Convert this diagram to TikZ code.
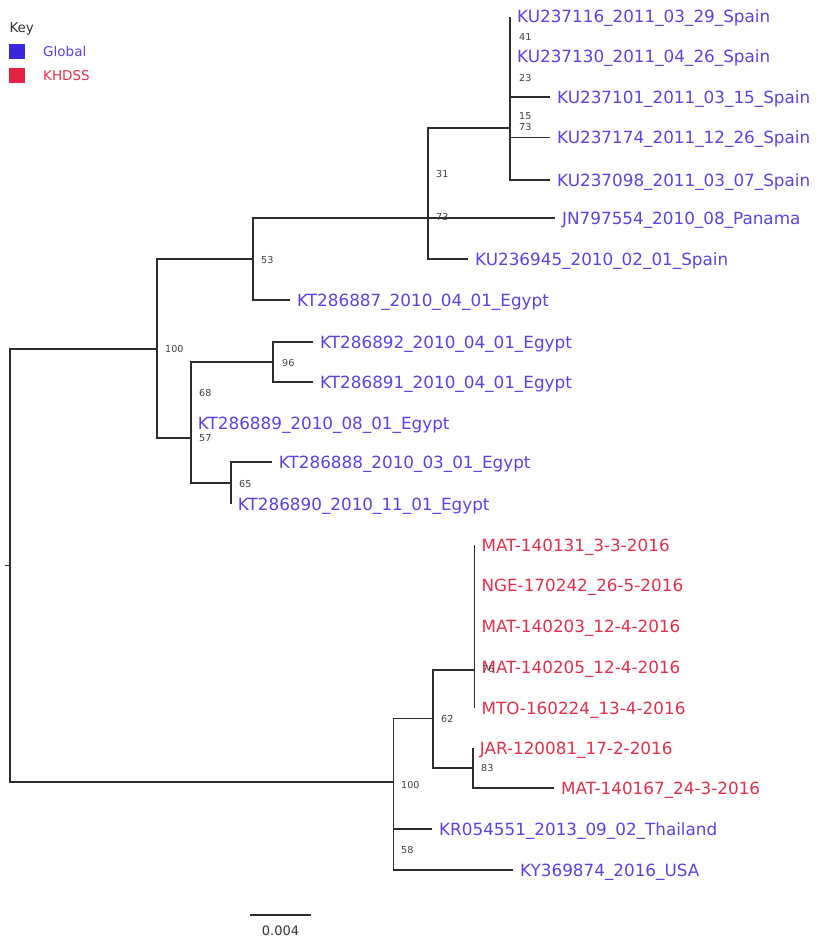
\documentclass[tikz,border=0pt]{standalone}
\usepackage{fontspec}
\setmainfont{DejaVu Sans}
\definecolor{global}{RGB}{88,68,230}
\definecolor{khdss}{RGB}{228,48,72}
\definecolor{globalkey}{RGB}{58,38,222}
\definecolor{khdsskey}{RGB}{228,36,64}
\definecolor{branch}{RGB}{45,45,45}
\def\clade#1#2{\foreach \kid in {#2} \draw[edge] (#1) |- (\kid);}

\begin{document}
\begin{tikzpicture}[x=1pt, y=-1pt,
	edge/.style={draw=branch, line width=1.6pt},
	taxon/.style={anchor=west, inner xsep=7pt, inner ysep=0pt, font=\fontsize{16.8}{18}\selectfont, text height=12pt, text depth=0pt},
	glob/.style={taxon, text=global},
	kenya/.style={taxon, text=khdss},
	support/.style={anchor=west, inner sep=0pt, font=\fontsize{9.6}{10}\selectfont, text=black!75, text height=7pt, text depth=0pt},
	keybox/.style={minimum width=16pt, minimum height=15pt, inner sep=0pt},
	keytext/.style={anchor=west, inner sep=0pt, font=\fontsize{13.5}{14}\selectfont, text height=10pt, text depth=0pt}]
	\useasboundingbox (0,0) rectangle (815,939);

	\node[keytext, text=black!80] (key) at (9.3,28) {Key};
	\node[keybox, fill=globalkey] (globalsq) at (17.3,51.5) {};
	\node[keybox, fill=khdsskey] (khdsssq) at (17.3,76) {};
	\node[keytext, text=global] (globaltxt) at (43,52) {Global};
	\node[keytext, text=khdss] (khdsstxt) at (43,76) {KHDSS};

	\coordinate (stub) at (4.5,565.5);
	\coordinate (root) at (10,565.5);
	\coordinate (old) at (156.7,349);
	\coordinate (med) at (253,259);
	\coordinate (spanam) at (428,218);
	\coordinate (spain) at (510,128);
	\coordinate (egypt) at (190.7,437.7);
	\coordinate (egyptA) at (272.7,362);
	\coordinate (egyptB) at (230.7,483);
	\coordinate (recent) at (393.5,782);
	\coordinate (kh) at (432.7,718.3);
	\coordinate (khA) at (474.3,670);
	\coordinate (khB) at (472.7,768);

	\node[glob] (ku237116) at (510,17) {KU237116\_2011\_03\_29\_Spain};
	\node[glob] (ku237130) at (510,57) {KU237130\_2011\_04\_26\_Spain};
	\node[glob] (ku237101) at (550,97) {KU237101\_2011\_03\_15\_Spain};
	\node[glob] (ku237174) at (550,137.5) {KU237174\_2011\_12\_26\_Spain};
	\node[glob] (ku237098) at (550,180) {KU237098\_2011\_03\_07\_Spain};
	\node[glob] (jn797554) at (555,218) {JN797554\_2010\_08\_Panama};
	\node[glob] (ku236945) at (468,259) {KU236945\_2010\_02\_01\_Spain};
	\node[glob] (kt286887) at (290,300) {KT286887\_2010\_04\_01\_Egypt};
	\node[glob] (kt286892) at (313,342) {KT286892\_2010\_04\_01\_Egypt};
	\node[glob] (kt286891) at (313,382) {KT286891\_2010\_04\_01\_Egypt};
	\node[glob] (kt286889) at (190.7,423) {KT286889\_2010\_08\_01\_Egypt};
	\node[glob] (kt286888) at (271.7,462) {KT286888\_2010\_03\_01\_Egypt};
	\node[glob] (kt286890) at (230.7,504) {KT286890\_2010\_11\_01\_Egypt};
	\node[kenya] (mat140131) at (474.3,545) {MAT-140131\_3-3-2016};
	\node[kenya] (nge170242) at (474.3,585) {NGE-170242\_26-5-2016};
	\node[kenya] (mat140203) at (474.3,626) {MAT-140203\_12-4-2016};
	\node[kenya] (mat140205) at (474.3,667) {MAT-140205\_12-4-2016};
	\node[kenya] (mto160224) at (474.3,708) {MTO-160224\_13-4-2016};
	\node[kenya] (jar120081) at (472.7,748) {JAR-120081\_17-2-2016};
	\node[kenya] (mat140167) at (554,788) {MAT-140167\_24-3-2016};
	\node[glob] (kr054551) at (432,829) {KR054551\_2013\_09\_02\_Thailand};
	\node[glob] (ky369874) at (513,870) {KY369874\_2016\_USA};

	\draw[edge] (stub) -- (root);
	\clade{root}{old, recent}
	\clade{old}{med, egypt}
	\clade{med}{spanam, kt286887.west}
	\clade{spanam}{spain, jn797554.west, ku236945.west}
	\clade{spain}{ku237116.west, ku237130.west, ku237101.west, ku237174.west, ku237098.west}
	\clade{egypt}{egyptA, kt286889.west, egyptB}
	\clade{egyptA}{kt286892.west, kt286891.west}
	\clade{egyptB}{kt286888.west, kt286890.west}
	\clade{recent}{kh, kr054551.west, ky369874.west}
	\clade{kh}{khA, khB}
	\clade{khA}{mat140131.west, nge170242.west, mat140203.west, mat140205.west, mto160224.west}
	\clade{khB}{jar120081.west, mat140167.west}

	\foreach \px/\py/\bs [count=\i] in {165/349/100, 261/260/53, 436/174/31, 436/217/73,
		519/37/41, 519/78/23, 519/116/15, 519/127/73, 282/363/96, 199/393/68, 199/438/57,
		239/484/65, 441/719/62, 401/785/100, 482/669/76, 481/768/83, 401/850/58}
		\node[support] (bs\i) at (\px,\py) {\bs};

	\coordinate (barL) at (250,915);
	\coordinate (barR) at (311,915);
	\draw[edge, line width=1.3pt] (barL) -- (barR);
	\node[inner sep=0pt, font=\fontsize{13}{14}\selectfont, text=black!80, text height=9.5pt, text depth=0pt] (barlabel) at (280.5,931) {0.004};
\end{tikzpicture}
\end{document}
